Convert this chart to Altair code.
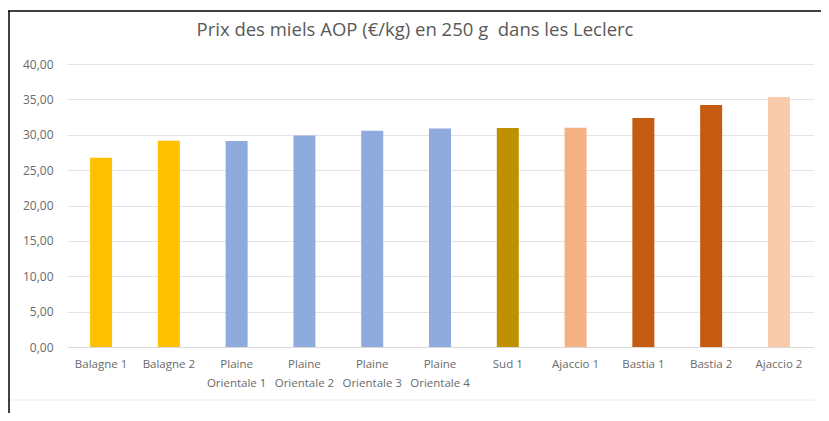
import altair as alt
import pandas as pd

categories = ["Balagne 1", "Balagne 2", "Plaine Orientale 1", "Plaine Orientale 2",
              "Plaine Orientale 3", "Plaine Orientale 4", "Sud 1", "Ajaccio 1",
              "Bastia 1", "Bastia 2", "Ajaccio 2"]
prices = [26.75, 29.15, 29.1, 29.9, 30.55, 30.9, 30.95, 31.0, 32.35, 34.2, 35.35]
bar_colors = ["#FFC000", "#FFC000", "#8FAADC", "#8FAADC", "#8FAADC", "#8FAADC",
              "#BF9000", "#F4B183", "#C55A11", "#C55A11", "#F8CBAD"]
y_ticks = [0, 5, 10, 15, 20, 25, 30, 35, 40]
title_text = "Prix des miels AOP (€/kg) en 250 g\u00a0 dans les Leclerc"

df = pd.DataFrame({"cat": categories, "price": prices})

PW, PH = 746, 283

bars = alt.Chart(df).mark_bar(size=22).encode(
    x=alt.X("cat:N", sort=categories, title=None,
            scale=alt.Scale(paddingInner=0.675, paddingOuter=0.34),
            axis=alt.Axis(labelAngle=0, ticks=False, domain=True, domainColor="#d9d9d9",
                          labelColor="#6a6a6a", labelFont="Open Sans", labelFontSize=11.5,
                          labelPadding=11, labelLineHeight=19, labelBaseline="top",
                          labelExpr="indexof(datum.label, 'Plaine') == 0 ? ['Plaine', substring(datum.label, 7)] : datum.label")),
    y=alt.Y("price:Q", title=None,
            scale=alt.Scale(domain=[0, 40], nice=False),
            axis=alt.Axis(values=y_ticks, ticks=False, domain=False, gridColor="#e4e4e4",
                          labelColor="#6a6a6a", labelFont="Open Sans", labelFontSize=12,
                          labelPadding=14,
                          labelExpr="replace(format(datum.value, '.2f'), '.', ',')")),
    color=alt.Color("cat:N", scale=alt.Scale(domain=categories, range=bar_colors), legend=None),
)

one = pd.DataFrame({"a": [0]})
top_line = alt.Chart(one).mark_rule(color="#000000", strokeWidth=1.5).encode(
    x=alt.value(-59), x2=alt.value(762), y=alt.value(-53))
left_line = alt.Chart(one).mark_rule(color="#000000", strokeWidth=1.5).encode(
    x=alt.value(-58), y=alt.value(-53), y2=alt.value(349))
bottom_line = alt.Chart(one).mark_rule(color="#ececec", strokeWidth=1).encode(
    x=alt.value(-57), x2=alt.value(748), y=alt.value(336))
title_mark = alt.Chart(one).mark_text(
    font="Open Sans", fontSize=18.5, color="#595959", align="center", baseline="middle"
).encode(x=alt.value(348), y=alt.value(-34), text=alt.value(title_text))

chart = alt.layer(bars, top_line, left_line, bottom_line, title_mark).properties(
    width=PW, height=PH,
    padding={"left": 59, "top": 56, "right": 8, "bottom": 66},
    autosize=alt.AutoSizeParams(type="none"),
).configure_view(stroke=None)

chart.save("out.html", embed_options={"renderer": "svg", "actions": False})
